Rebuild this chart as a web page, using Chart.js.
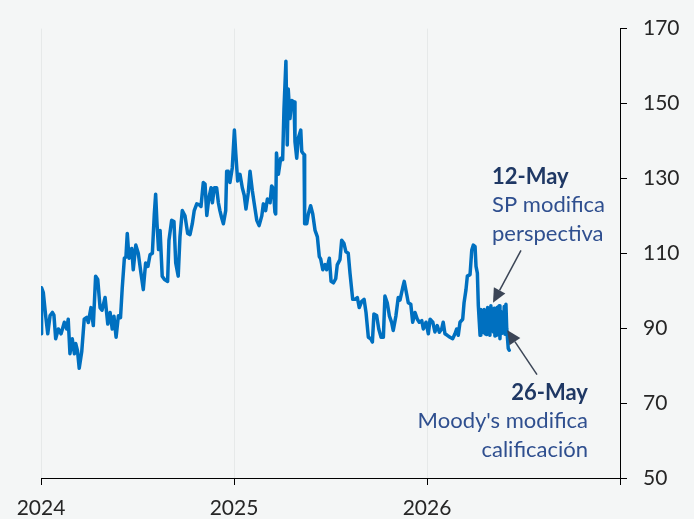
<!DOCTYPE html>
<html>
<head>
<meta charset="utf-8">
<script src="https://cdn.jsdelivr.net/npm/chart.js@4.4.1/dist/chart.umd.min.js"></script>
<style>
  html, body { margin:0; padding:0; background:#F4F6F6; }
  #wrap { width:694px; height:519px; }
</style>
</head>
<body>
<div id="wrap"><canvas id="grafico"></canvas></div>
<script>
// fechas en años decimales
const fechas = [
  2024.000,2024.003,2024.012,2024.024,2024.035,2024.047,2024.059,2024.067,2024.076,2024.090,
  2024.104,2024.121,2024.133,2024.141,2024.150,2024.162,2024.173,2024.180,2024.189,2024.198,
  2024.211,2024.224,2024.237,2024.245,2024.259,2024.271,2024.283,2024.294,2024.306,2024.316,
  2024.332,2024.346,2024.358,2024.369,2024.378,2024.389,2024.401,2024.412,2024.421,2024.432,
  2024.440,2024.447,2024.456,2024.470,2024.478,2024.491,2024.504,2024.518,2024.530,2024.542,
  2024.554,2024.565,2024.577,2024.587,2024.594,2024.601,2024.609,2024.617,2024.628,2024.640,
  2024.656,2024.663,2024.677,2024.689,2024.698,2024.711,2024.720,2024.732,2024.746,2024.760,
  2024.772,2024.784,2024.794,2024.807,2024.819,2024.829,2024.841,2024.850,2024.859,2024.870,
  2024.881,2024.888,2024.898,2024.910,2024.919,2024.927,2024.936,2024.945,2024.957,2024.962,
  2024.970,2024.979,2024.991,2025.002,2025.009,2025.019,2025.031,2025.043,2025.053,2025.062,
  2025.074,2025.083,2025.095,2025.105,2025.118,2025.130,2025.144,2025.152,2025.164,2025.173,
  2025.187,2025.195,2025.201,2025.205,2025.212,2025.216,2025.220,2025.230,2025.242,2025.252,
  2025.259,2025.269,2025.276,2025.281,2025.290,2025.299,2025.311,2025.316,2025.325,2025.333,
  2025.346,2025.351,2025.363,2025.366,2025.377,2025.385,2025.397,2025.408,2025.420,2025.432,
  2025.442,2025.449,2025.460,2025.472,2025.480,2025.494,2025.503,2025.515,2025.527,2025.535,
  2025.549,2025.558,2025.570,2025.580,2025.592,2025.601,2025.615,2025.627,2025.639,2025.649,
  2025.662,2025.674,2025.684,2025.696,2025.708,2025.717,2025.725,2025.739,2025.750,2025.762,
  2025.774,2025.782,2025.794,2025.805,2025.817,2025.825,2025.839,2025.851,2025.860,2025.874,
  2025.882,2025.895,2025.903,2025.916,2025.926,2025.938,2025.950,2025.960,2025.973,2025.981,
  2025.995,2026.007,2026.016,2026.030,2026.041,2026.053,2026.064,2026.076,2026.084,2026.093,
  2026.105,2026.119,2026.133,2026.145,2026.154,2026.162,2026.171,2026.185,2026.192,2026.202,
  2026.209,2026.223,2026.232,2026.240,2026.249,2026.254,2026.261,2026.266,2026.271,2026.275,
  2026.279,2026.283,2026.288,2026.292,2026.296,2026.301,2026.305,2026.309,2026.314,2026.318,
  2026.322,2026.326,2026.331,2026.335,2026.339,2026.344,2026.348,2026.352,2026.357,2026.361,
  2026.365,2026.369,2026.374,2026.378,2026.382,2026.387,2026.391,2026.396,2026.400,2026.404,
  2026.409,2026.413,2026.421,2026.426
];
const valores = [
  88.5,100.8,99.5,93.4,88.5,93.4,94.2,93.5,87.2,89.8,
  88.5,91.6,89.8,92.4,83.2,87.2,83.2,85.9,84.0,79.3,
  83.7,92.4,92.9,91.5,95.5,90.7,103.9,103.0,95.5,94.8,
  98.2,91.1,94.2,89.8,93.2,87.6,93.3,92.8,100.8,108.7,
  109.0,115.3,108.7,111.3,105.6,112.2,110.0,104.7,100.3,107.4,
  106.5,109.6,110.0,120.5,125.8,118.0,111.0,116.1,103.9,103.0,
  102.5,113.5,118.8,118.5,107.4,103.9,114.4,121.4,120.0,115.3,
  115.0,117.9,121.4,123.2,123.0,122.5,128.9,128.5,120.1,124.9,
  127.5,123.5,127.5,127.5,123.5,121.4,119.5,117.9,121.4,131.9,
  131.9,128.9,132.8,142.9,136.8,129.3,131.1,127.5,125.5,121.8,
  126.2,131.9,126.7,123.2,118.8,117.4,120.0,123.2,121.4,124.5,
  123.5,128.0,127.5,126.5,121.0,120.5,136.8,131.1,135.4,135.0,
  148.6,161.3,138.9,153.9,146.0,150.8,150.4,139.8,135.4,140.7,
  142.9,137.2,136.3,117.9,117.9,120.5,122.7,120.5,116.1,114.4,
  109.1,108.5,105.6,107.0,105.6,108.7,102.5,102.1,103.2,106.9,
  108.3,113.5,112.6,110.4,110.0,104.7,97.7,97.7,98.2,95.5,
  97.2,97.7,94.2,87.6,87.2,86.3,93.8,93.4,89.8,87.6,
  87.6,98.6,96.8,93.3,91.5,89.4,93.3,98.2,97.5,100.8,
  102.5,99.0,96.8,96.4,91.6,94.2,92.4,91.6,92.0,89.8,
  91.6,88.5,92.4,91.6,89.0,90.7,88.9,89.8,91.6,88.5,
  88.1,87.6,87.2,88.5,89.8,88.1,91.6,92.4,96.8,100.3,
  103.9,104.3,110.9,112.2,111.8,106.5,104.7,96.0,91.6,88.1,
  95.0,89.2,94.6,88.9,95.0,88.5,94.2,88.3,95.5,89.0,
  93.8,88.1,96.0,89.5,94.8,89.0,95.3,87.9,94.0,88.1,
  95.6,89.4,96.0,87.2,94.5,88.6,94.2,89.0,95.8,88.4,
  96.4,90.0,84.6,84.1
];
const ticksX = [2024, 2025, 2026, 2027];
const ticksY = [50, 70, 90, 110, 130, 150, 170];

const azul = '#0070C0';
const fuente = 'Lato, "Open Sans", sans-serif';

// anotaciones (en unidades de datos)
const notas = [
  { punta:[2026.342, 96.8], cola:[2026.487, 110.8], x:2026.337, align:'left',
    lineas:[[130.5,'12-May',true],[122.9,'SP modifica',false],[115.3,'perspectiva',false]] },
  { punta:[2026.415, 89.5], cola:[2026.570, 77.6], x:2026.834, align:'right',
    lineas:[[72.6,'26-May',true],[65.3,"Moody's modifica",false],[57.4,'calificación',false]] }
];

function flecha(ctx, x0, y0, x1, y1){
  const a = Math.atan2(y1 - y0, x1 - x0), L = 14, W = 6.5;
  const bx = x1 - L * Math.cos(a), by = y1 - L * Math.sin(a);
  ctx.beginPath(); ctx.moveTo(x0, y0); ctx.lineTo(bx, by); ctx.stroke();
  ctx.beginPath();
  ctx.moveTo(x1, y1);
  ctx.lineTo(bx + W * Math.sin(a), by - W * Math.cos(a));
  ctx.lineTo(bx - W * Math.sin(a), by + W * Math.cos(a));
  ctx.closePath(); ctx.fill();
}

const fondo = {
  id: 'fondo',
  beforeDraw(chart){
    const ctx = chart.ctx;
    ctx.save(); ctx.fillStyle = '#F4F6F6';
    ctx.fillRect(0, 0, chart.width, chart.height);
    ctx.restore();
  }
};

const anotaciones = {
  id: 'anotaciones',
  afterDatasetsDraw(chart){
    const ctx = chart.ctx, sx = chart.scales.x, sy = chart.scales.y;
    ctx.save();
    ctx.strokeStyle = '#3B4556'; ctx.fillStyle = '#3B4556'; ctx.lineWidth = 1.5;
    notas.forEach(n => {
      flecha(ctx, sx.getPixelForValue(n.cola[0]), sy.getPixelForValue(n.cola[1]),
                  sx.getPixelForValue(n.punta[0]), sy.getPixelForValue(n.punta[1]));
    });
    ctx.textBaseline = 'middle';
    notas.forEach(n => {
      ctx.textAlign = n.align;
      n.lineas.forEach(([v, txt, neg]) => {
        ctx.font = (neg ? 'bold ' : '') + '22px ' + fuente;
        ctx.fillStyle = neg ? '#1F3864' : '#2F4F8F';
        ctx.fillText(txt, sx.getPixelForValue(n.x), sy.getPixelForValue(v));
      });
    });
    ctx.restore();
  }
};

new Chart(document.getElementById('grafico'), {
  type: 'line',
  data: {
    datasets: [{
      data: fechas.map((f, i) => ({ x: f, y: valores[i] })),
      borderColor: azul,
      borderWidth: 3.5,
      borderJoinStyle: 'round',
      borderCapStyle: 'round',
      pointRadius: 0,
      tension: 0,
      fill: false
    }]
  },
  options: {
    responsive: true,
    maintainAspectRatio: false,
    devicePixelRatio: 1,
    animation: false,
    layout: { padding: { left: 41, top: 22, right: 0, bottom: 0 } },
    plugins: { legend: { display: false }, tooltip: { enabled: false } },
    scales: {
      x: {
        type: 'linear',
        min: 2024, max: 2027,
        afterBuildTicks: s => { s.ticks = ticksX.map(v => ({ value: v })); },
        afterFit: s => { s.height = 41; },
        grid: { color: '#E6E9E9', lineWidth: 1, tickLength: 7, tickColor: '#000' },
        border: { color: '#000', width: 1 },
        ticks: {
          maxRotation: 0,
          autoSkip: false,
          padding: 11,
          color: '#262626',
          font: { family: fuente, size: 21 },
          callback: v => (v === 2027 ? '' : String(v))
        }
      },
      y: {
        position: 'right',
        min: 50, max: 170,
        afterBuildTicks: s => { s.ticks = ticksY.map(v => ({ value: v })); },
        afterFit: s => { s.width = 74; },
        grid: { drawOnChartArea: false, tickLength: 7, tickColor: '#000' },
        border: { color: '#000', width: 1 },
        ticks: {
          padding: 16,
          color: '#262626',
          font: { family: fuente, size: 21 }
        }
      }
    }
  },
  plugins: [fondo, anotaciones]
});
</script>
</body>
</html>
